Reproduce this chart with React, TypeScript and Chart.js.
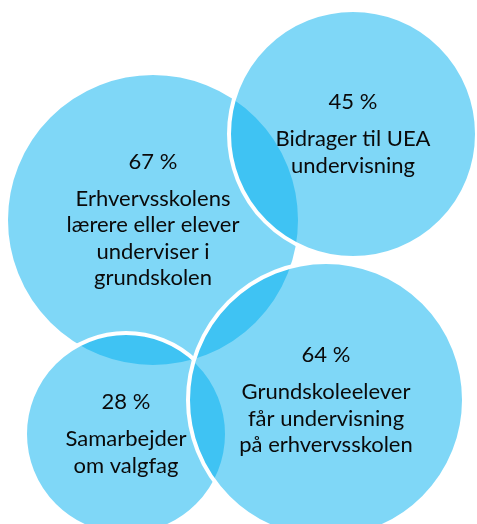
import React, { useEffect, useRef } from "react";
import { Chart, registerables } from "chart.js";

Chart.register(...registerables);

// ---- data ----
const categories: string[][] = [
  ["Erhvervsskolens", "lærere eller elever", "underviser i", "grundskolen"],
  ["Bidrager til UEA", "undervisning"],
  ["Samarbejder", "om valgfag"],
  ["Grundskoleelever", "får undervisning", "på erhvervsskolen"],
];
const values: number[] = [67, 45, 28, 64];

// ---- layout (canvas pixels) ----
const W = 477;
const H = 524;
const bubbleX = [153, 353, 126, 326];
const bubbleY = [220, 134, 434, 400];
const bubbleR = [147, 124, 101, 138];

const FONT = "Lato";
const FONT_SIZE = 22;
const PCT_GAP = 37;
const LINE_H = 26.5;

const labelPlugin = {
  id: "bubbleLabels",
  afterDatasetsDraw(chart: any) {
    const ctx: CanvasRenderingContext2D = chart.ctx;
    const meta = chart.getDatasetMeta(0);
    ctx.save();
    ctx.fillStyle = "#0a0a0a";
    ctx.textAlign = "center";
    ctx.textBaseline = "middle";
    ctx.font = `${FONT_SIZE}px ${FONT}`;
    meta.data.forEach((el: any, i: number) => {
      const lines = categories[i];
      const total = PCT_GAP + (lines.length - 1) * LINE_H;
      let y = el.y - total / 2;
      ctx.fillText(`${values[i]} %`, el.x, y);
      y += PCT_GAP;
      lines.forEach((l) => {
        ctx.fillText(l, el.x, y);
        y += LINE_H;
      });
    });
    ctx.restore();
  },
};

export default function App() {
  const ref = useRef<HTMLCanvasElement | null>(null);
  useEffect(() => {
    if (!ref.current) return;
    const chart = new Chart(ref.current, {
      type: "bubble",
      data: {
        datasets: [
          {
            label: "Venn",
            data: values.map((v, i) => ({ x: bubbleX[i], y: bubbleY[i], r: bubbleR[i], v })),
            backgroundColor: "rgba(0, 176, 240, 0.5)",
            borderColor: "#ffffff",
            borderWidth: 4,
            hoverBorderWidth: 4,
            clip: false as any,
          },
        ],
      },
      options: {
        animation: false,
        responsive: true,
        maintainAspectRatio: false,
        layout: { padding: 0, autoPadding: false },
        plugins: { legend: { display: false }, tooltip: { enabled: false } },
        events: [],
        scales: {
          x: { type: "linear", min: 0, max: W, display: false },
          y: { type: "linear", min: 0, max: H, reverse: true, display: false },
        },
      },
      plugins: [labelPlugin],
    });
    return () => chart.destroy();
  }, []);
  return (
    <div style={{ position: "fixed", left: 0, top: 0, width: W, height: H, background: "#fff" }}>
      <canvas ref={ref} />
    </div>
  );
}
